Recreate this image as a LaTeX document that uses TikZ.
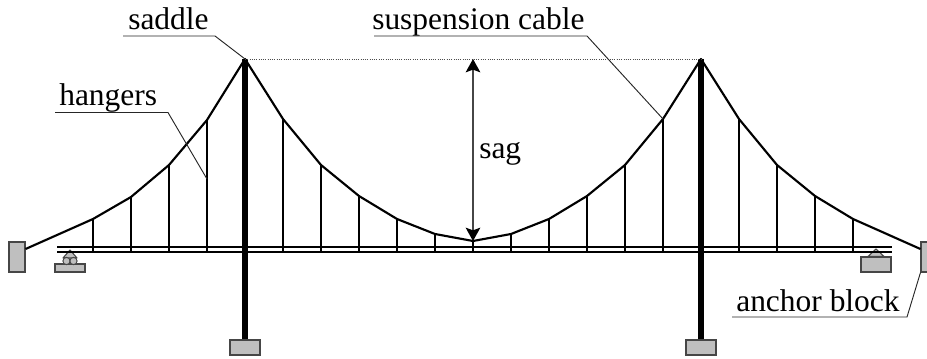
\documentclass[tikz,border=0pt]{standalone}
\usepackage{fontspec}
\setmainfont{Liberation Serif}
\usepackage{tikz}
\usetikzlibrary{arrows.meta,positioning,calc}
\definecolor{blockgrey}{RGB}{191,191,191}
\definecolor{edgegrey}{RGB}{70,70,70}
\definecolor{arrowgrey}{RGB}{70,70,70}
\tikzset{
  base/.style={font=\fontsize{23.6pt}{26pt}\selectfont, inner sep=0pt, anchor=base west, text=black},
  block/.style={rectangle, draw=edgegrey, fill=blockgrey, line width=0.8pt, inner sep=0pt},
  footing/.style={block, minimum width=22.5pt, minimum height=11.25pt},
  anchorblock/.style={block, minimum width=12pt, minimum height=22.5pt},
  roller/.style={circle, draw=edgegrey, fill=blockgrey, line width=0.7pt, inner sep=0pt, minimum size=5.4pt},
  tower/.style={line width=4.5pt, draw=black},
  deck/.style={line width=1.9pt, draw=black},
  cable/.style={line width=1.6pt, draw=black, line join=round},
  hanger/.style={line width=1.3pt, draw=black},
  leader/.style={line width=0.7pt, draw=black!85},
  level/.style={line width=0.7pt, densely dotted, draw=black!70},
  arr2/.style={line width=0.9pt, draw=arrowgrey, arrows={Stealth[length=10pt,width=11pt,inset=2pt,black]-Stealth[length=10pt,width=11pt,inset=2pt,black]}},
  wedge/.style={draw=edgegrey, fill=blockgrey, line width=0.8pt, line join=round},
}
\begin{document}
\begin{tikzpicture}[x=0.75pt,y=-0.75pt]
  \useasboundingbox (0,0) rectangle (927,359);
  \clip (0,0) rectangle (927,359);
  % cable points
  \foreach \n/\x/\y in {1/93/219,2/131/197,3/169/165,4/207/120,5/245/59,6/283/119,7/321/165,8/359/196,9/397/219,10/435/234,11/473/241,12/511/234,13/549/219,14/587/196,15/625/165,16/663/119,17/701/59,18/739/119,19/777/165,20/815/196,21/853/219}{
    \coordinate (c\n) at (\x,\y);
  }
  % blocks
  \node[anchorblock] (anchorL) at (17,257) {};
  \node[anchorblock] (anchorR) at (929,257) {};
  \node[footing] (footL) at (245,347.5) {};
  \node[footing] (footR) at (701,347.5) {};
  \node[footing,minimum height=6pt] (baseL) at (70,268) {};
  \node[footing] (baseR) at (876,264.5) {};
  % supports
  \coordinate (wedgeL) at (70,250);
  \coordinate (wedgeR) at (876,249);
  \draw[wedge] (wedgeL) -- ++(7,8) -- ++(-14,0) -- cycle;
  \draw[wedge] (wedgeR) -- (baseR.north -| 884,0) -- (baseR.north -| 868,0) -- cycle;
  \node[roller] (rollA) at (66.5,261) {};
  \node[roller] (rollB) at (73.5,261) {};
  % deck
  \coordinate (deckAw) at (57,247);
  \coordinate (deckAe) at (892,247);
  \coordinate (deckBw) at (57,252);
  \coordinate (deckBe) at (892,252);
  \draw[deck] (deckAw) -- (deckAe);
  \draw[deck] (deckBw) -- (deckBe);
  % hangers
  \foreach \n in {1,2,3,4,6,7,8,9,10,11,12,13,14,15,16,18,19,20,21}{
    \draw[hanger] (c\n) -- (c\n |- deckBw);
  }
  % towers
  \draw[tower] (c5) -- (footL.north);
  \draw[tower] (c17) -- (footR.north);
  % cable
  \draw[cable] (anchorL.east |- 0,249) -- (c1) -- (c2) -- (c3) -- (c4) -- (c5) -- (c6) -- (c7) -- (c8) -- (c9) -- (c10) -- (c11) -- (c12) -- (c13) -- (c14) -- (c15) -- (c16) -- (c17) -- (c18) -- (c19) -- (c20) -- (c21) -- (anchorR.west |- 0,249);
  % sag
  \draw[level] (c5) -- (c17);
  \draw[arr2] (c11 |- c5) -- (c11);
  \node[base] (sag) at (479,159) {sag};
  % labels
  \node[base] (saddle) at (128,30) {saddle};
  \node[base] (hangers) at (59,105.5) {hangers};
  \node[base] (suspension) at (372,30) {suspension cable};
  \node[base] (anchorlabel) at (736,311) {anchor block};
  % leaders
  \coordinate (hangerend) at (207,179);
  \draw[leader] (123,36) coordinate (saddleA) -- (215,36) coordinate (saddleB) -- (c5);
  \draw[leader] (55,112.5) coordinate (hangersA) -- (168,112.5) coordinate (hangersB) -- (hangerend);
  \draw[leader] (374,36) coordinate (cableA) -- (587,36) coordinate (cableB) -- (c16);
  \draw[leader] (732,317) coordinate (anchorA) -- (907,317) coordinate (anchorB) -- (anchorR.south west);
\end{tikzpicture}
\end{document}
